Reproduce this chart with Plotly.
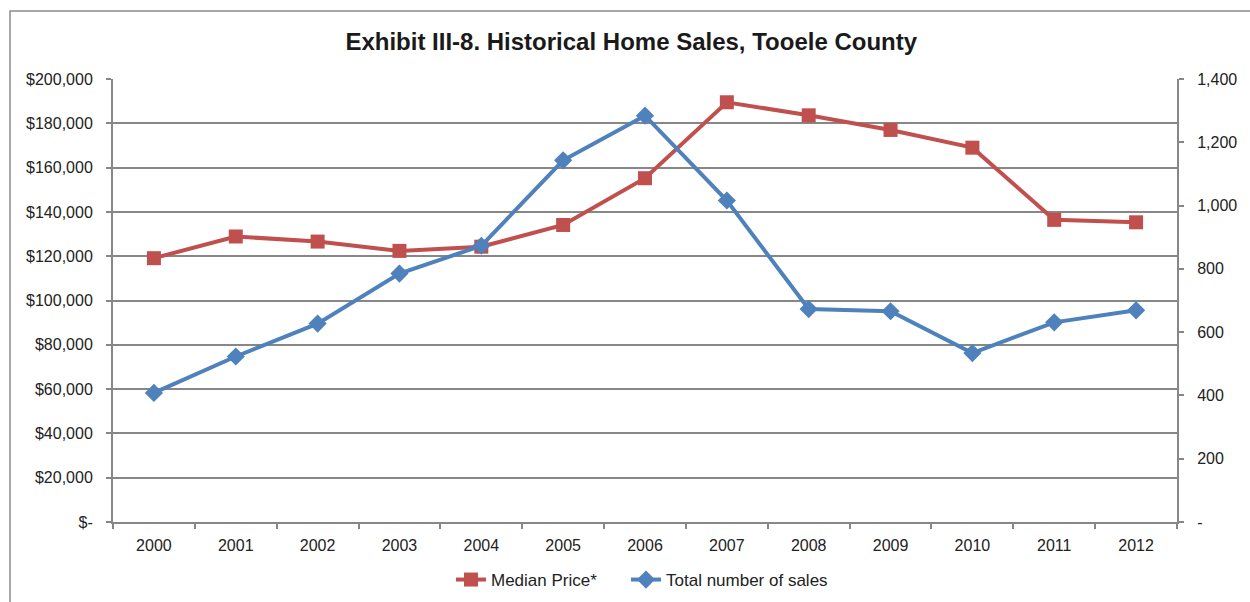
import plotly.graph_objects as go

years = ["2000", "2001", "2002", "2003", "2004", "2005", "2006",
         "2007", "2008", "2009", "2010", "2011", "2012"]
median_price = [119100, 128900, 126600, 122400, 124300, 134100, 155200,
                189500, 183600, 177000, 169000, 136400, 135300]
total_sales = [408, 523, 627, 785, 873, 1143, 1284,
               1016, 673, 666, 534, 631, 669]

left_vals = list(range(0, 200001, 20000))
left_text = ["$-"] + [f"${v:,}" for v in left_vals[1:]]
right_vals = list(range(0, 1401, 200))
right_text = ["-"] + [f"{v:,}" for v in right_vals[1:]]

RED = "#C0504D"
BLUE = "#4F81BD"
GRID = "#878787"
FONT = "Liberation Sans, Arial, sans-serif"
TXT = "#222222"

fig = go.Figure()
fig.add_trace(go.Scatter(
    x=years, y=median_price, name="Median Price*", mode="lines+markers",
    line=dict(color=RED, width=4),
    marker=dict(symbol="square", size=14, color=RED),
    yaxis="y", legend="legend"))
fig.add_trace(go.Scatter(
    x=years, y=total_sales, name="Total number of sales", mode="lines+markers",
    line=dict(color=BLUE, width=4),
    marker=dict(symbol="diamond", size=14, color=BLUE),
    yaxis="y2", legend="legend2"))

LEG_Y = (522 - 580) / 443

fig.update_layout(
    width=1250, height=602,
    margin=dict(l=113, r=73, t=79, b=80, autoexpand=False),
    paper_bgcolor="white", plot_bgcolor="white",
    font=dict(family=FONT, size=16, color=TXT),
    title=dict(text="<b>Exhibit III-8. Historical Home Sales, Tooele County</b>",
               x=0.505, xanchor="center", y=1 - 42 / 602, yanchor="middle",
               font=dict(family=FONT, size=24, color="#1a1a1a")),
    showlegend=True,
    legend=dict(orientation="h", x=(451 - 113) / 1064, xanchor="left",
                y=LEG_Y, yanchor="middle", font=dict(size=17, color=TXT),
                bgcolor="rgba(0,0,0,0)"),
    legend2=dict(orientation="h", x=(626 - 113) / 1064, xanchor="left",
                 y=LEG_Y, yanchor="middle", font=dict(size=17, color=TXT),
                 bgcolor="rgba(0,0,0,0)"),
    xaxis=dict(type="category", range=[-0.5, 12.5],
               tickson="boundaries", ticks="outside",
               ticklen=5, tickcolor=GRID, tickwidth=1.5,
               showline=True, linecolor=GRID, linewidth=2,
               showgrid=False, zeroline=False, automargin=False,
               ticklabelstandoff=8,
               tickfont=dict(size=16, color=TXT)),
    yaxis=dict(range=[0, 200000], tickvals=left_vals, ticktext=left_text,
               ticks="outside", ticklen=5, tickcolor=GRID, tickwidth=1.5,
               showline=True, linecolor=GRID, linewidth=2,
               showgrid=True, gridcolor=GRID, gridwidth=1.5,
               zeroline=False, ticklabelstandoff=10, automargin=False,
               tickfont=dict(size=16, color=TXT)),
    yaxis2=dict(range=[0, 1400], tickvals=right_vals, ticktext=right_text,
                overlaying="y", side="right",
                ticks="outside", ticklen=5, tickcolor=GRID, tickwidth=1.5,
                showline=True, linecolor=GRID, linewidth=2,
                showgrid=False, zeroline=False, ticklabelstandoff=10,
                automargin=False,
                tickfont=dict(size=16, color=TXT)),
    shapes=[dict(type="rect", xref="paper", yref="paper",
                 x0=(10 - 113) / 1064, x1=(1320 - 113) / 1064,
                 y0=(522 - 650) / 443, y1=(522 - 11) / 443,
                 line=dict(color="#8a8a8a", width=1.5),
                 fillcolor="rgba(0,0,0,0)", layer="below")],
)

fig.write_html("out.html")
